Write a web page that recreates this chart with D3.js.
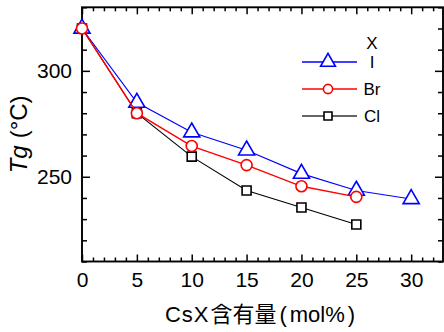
<!DOCTYPE html>
<html>
<head>
<meta charset="utf-8">
<script src="https://cdn.jsdelivr.net/npm/d3@7"></script>
<style>
  body { margin: 0; background: #fff; }
  svg { display: block; }
  text { font-family: "Liberation Sans", Arial, sans-serif; fill: #000; }
</style>
</head>
<body>
<script>
// CsX content (mol%) and glass transition temperature Tg (°C)
const contentI  = [0, 5, 10, 15, 20, 25, 30];
const tgI       = [320, 285, 271, 262.5, 251.5, 243.5, 239.5];
const contentBr = [0, 5, 10, 15, 20, 25];
const tgBr      = [320, 280, 264.5, 255.5, 245.5, 240.5];
const contentCl = [0, 5, 10, 15, 20, 25];
const tgCl      = [320, 280, 259.5, 243.5, 235.5, 227.5];

const seriesNames  = ["I", "Br", "Cl"];
const legendTitle  = "X";
const xTickLabels  = [0, 5, 10, 15, 20, 25, 30];
const yTickLabels  = [250, 300];

const W = 444, H = 332;
const plotL = 82, plotR = 443, plotT = 7.3, plotB = 261.5;

const svg = d3.select("body").append("svg").attr("width", W).attr("height", H);

const x = d3.scaleLinear().domain([0, 32.9]).range([plotL, plotR]);
const y = d3.scaleLinear().domain([210, 330]).range([plotB, plotT]);

const minorX = d3.range(0, 33, 1).filter(v => v % 5 !== 0);
const minorY = d3.range(210, 331, 10).filter(v => v % 50 !== 0);

function styleAxis(g) {
  g.select(".domain").remove();
  g.selectAll("line").attr("stroke", "#000").attr("stroke-width", 1.5);
  g.selectAll("text").style("font-size", "21px")
    .style("font-family", '"Liberation Sans", Arial, sans-serif');
}

// bottom axis: ticks point inward
svg.append("g").attr("transform", `translate(0,${plotB})`)
  .call(d3.axisBottom(x).tickValues(minorX).tickSize(-4).tickFormat(""))
  .call(styleAxis);
svg.append("g").attr("transform", `translate(0,${plotB})`)
  .call(d3.axisBottom(x).tickValues(xTickLabels).tickSize(-7).tickPadding(11).tickFormat(d3.format("d")))
  .call(styleAxis);

// top axis
svg.append("g").attr("transform", `translate(0,${plotT})`)
  .call(d3.axisTop(x).tickValues(minorX).tickSize(-4).tickFormat(""))
  .call(styleAxis);
svg.append("g").attr("transform", `translate(0,${plotT})`)
  .call(d3.axisTop(x).tickValues(xTickLabels).tickSize(-7).tickFormat(""))
  .call(styleAxis);

// left axis
svg.append("g").attr("transform", `translate(${plotL},0)`)
  .call(d3.axisLeft(y).tickValues(minorY).tickSize(-5).tickFormat(""))
  .call(styleAxis);
svg.append("g").attr("transform", `translate(${plotL},0)`)
  .call(d3.axisLeft(y).tickValues(yTickLabels).tickSize(-8).tickPadding(10).tickFormat(d3.format("d")))
  .call(styleAxis);

// right axis
svg.append("g").attr("transform", `translate(${plotR},0)`)
  .call(d3.axisRight(y).tickValues(minorY).tickSize(-5).tickFormat(""))
  .call(styleAxis);
svg.append("g").attr("transform", `translate(${plotR},0)`)
  .call(d3.axisRight(y).tickValues(yTickLabels).tickSize(-8).tickFormat(""))
  .call(styleAxis);

// frame
svg.append("rect")
  .attr("x", plotL).attr("y", plotT)
  .attr("width", plotR - plotL).attr("height", plotB - plotT)
  .attr("fill", "none").attr("stroke", "#000").attr("stroke-width", 1.9);

// series (drawn Cl, I, Br so the circles sit on top)
const series = [
  { name: seriesNames[2], xs: contentCl, ys: tgCl, color: "#000000", lw: 1.1,
    symbol: d3.symbolSquare, size: 81, legendSize: 64 },
  { name: seriesNames[0], xs: contentI, ys: tgI, color: "#0000ff", lw: 1.2,
    symbol: d3.symbolTriangle, size: 112, legendSize: 95 },
  { name: seriesNames[1], xs: contentBr, ys: tgBr, color: "#ff0000", lw: 1.4,
    symbol: d3.symbolCircle, size: Math.PI * 5.5 * 5.5, legendSize: Math.PI * 4.6 * 4.6 }
];

const line = d3.line().x(d => x(d[0])).y(d => y(d[1]));

series.forEach(s => {
  const pts = s.xs.map((v, i) => [v, s.ys[i]]);
  const g = svg.append("g");
  g.append("path").datum(pts)
    .attr("d", line).attr("fill", "none")
    .attr("stroke", s.color).attr("stroke-width", s.lw);
  g.selectAll("path.mk").data(pts).join("path")
    .attr("class", "mk")
    .attr("transform", d => `translate(${x(d[0])},${y(d[1])})`)
    .attr("d", d3.symbol().type(s.symbol).size(s.size))
    .attr("fill", "#fff").attr("stroke", s.color).attr("stroke-width", 1.6);
});

// legend
const legend = svg.append("g");
legend.append("text").attr("x", 372).attr("y", 49)
  .attr("text-anchor", "middle").style("font-size", "17px").text(legendTitle);
const legendOrder = [series[1], series[2], series[0]];
legendOrder.forEach((s, i) => {
  const ly = 62 + i * 27;
  legend.append("line").attr("x1", 302).attr("x2", 357).attr("y1", ly).attr("y2", ly)
    .attr("stroke", s.color === "#000000" ? "#333" : s.color).attr("stroke-width", s.lw + 0.2);
  legend.append("path")
    .attr("transform", `translate(328,${ly})`)
    .attr("d", d3.symbol().type(s.symbol).size(s.legendSize))
    .attr("fill", "#fff").attr("stroke", s.color).attr("stroke-width", 1.6);
  legend.append("text").attr("x", 372).attr("y", ly + 6)
    .attr("text-anchor", "middle").style("font-size", "17px").text(s.name);
});

// x axis title
const xTitle = svg.append("text")
  .attr("x", 260).attr("y", 322)
  .attr("text-anchor", "middle")
  .style("font-size", "22px");
xTitle.append("tspan").attr("letter-spacing", "1px").text("CsX");
xTitle.append("tspan").attr("dx", 1)
  .style("font-family", '"Noto Sans CJK JP", "Noto Sans CJK SC", sans-serif')
  .text("含有量");
xTitle.append("tspan").attr("dx", 3).text("(");
xTitle.append("tspan").attr("dx", 3).text("mol%");
xTitle.append("tspan").attr("dx", 3).text(")");

// y axis title
const yTitle = svg.append("text")
  .attr("transform", `translate(27,${(plotT + plotB) / 2}) rotate(-90)`)
  .attr("text-anchor", "middle")
  .style("font-size", "24px");
yTitle.append("tspan").style("font-style", "italic").text("Tg");
yTitle.append("tspan").attr("dx", 7).text("(°C)");
</script>
</body>
</html>
